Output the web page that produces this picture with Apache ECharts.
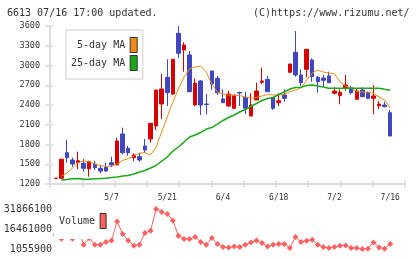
<!DOCTYPE html>
<html>
<head>
<meta charset="utf-8">
<script src="https://cdn.jsdelivr.net/npm/echarts@6.0.0/dist/echarts.min.js"></script>
<style>
  html, body { margin: 0; padding: 0; background: #fff; }
  #chart { width: 420px; height: 259px; }
</style>
</head>
<body>
<div id="chart"></div>
<script>
  // 日付 (2025/4/18 - 7/16)
  const dates = ['4/18', '4/21', '4/22', '4/23', '4/24', '4/25', '4/28', '4/30', '5/1', '5/2',
    '5/7', '5/8', '5/9', '5/12', '5/13', '5/14', '5/15', '5/16', '5/19', '5/20',
    '5/21', '5/22', '5/23', '5/26', '5/27', '5/28', '5/29', '5/30', '6/2', '6/3',
    '6/4', '6/5', '6/6', '6/9', '6/10', '6/11', '6/12', '6/13', '6/16', '6/17',
    '6/18', '6/19', '6/20', '6/23', '6/24', '6/25', '6/26', '6/27', '6/30', '7/1',
    '7/2', '7/3', '7/4', '7/7', '7/8', '7/9', '7/10', '7/11', '7/14', '7/15', '7/16']
  const dateLabels = ['5/7', '5/21', '6/4', '6/18', '7/2', '7/16']

  const opens = [1285, 1287, 1675, 1565, 1524, 1514, 1432, 1504, 1438, 1454,
    1524, 1489, 1960, 1742, 1600, 1615, 1777, 1884, 2081, 2415,
    2821, 2567, 3489, 3235, 3160, 2400, 2765, 2415, 2916, 2806,
    2491, 2385, 2350, 2590, 2517, 2233, 2476, 2745, 2790, 2517,
    2435, 2552, 2897, 3201, 2856, 2942, 3084, 2821, 2810, 2841,
    2578, 2541, 2654, 2663, 2487, 2628, 2587, 2502, 2389, 2400, 2283]
  const closes = [1289, 1577, 1600, 1504, 1554, 1438, 1539, 1448, 1397, 1397,
    1489, 1853, 1675, 1675, 1641, 1565, 1716, 2122, 2628, 2643,
    2587, 3094, 3185, 3311, 2602, 2730, 2400, 2408, 2719, 2587,
    2435, 2567, 2552, 2582, 2350, 2400, 2613, 2765, 2602, 2350,
    2465, 2502, 3023, 2856, 2739, 3246, 2830, 2754, 2775, 2739,
    2613, 2593, 2704, 2587, 2613, 2526, 2502, 2537, 2415, 2374, 1929]
  const lows = [1285, 1287, 1524, 1463, 1428, 1387, 1311, 1413, 1363, 1387,
    1454, 1489, 1651, 1630, 1549, 1539, 1675, 1827, 2020, 2187,
    2385, 2552, 3109, 2906, 2602, 2385, 2248, 2259, 2628, 2552,
    2435, 2374, 2335, 2385, 2263, 2233, 2476, 2719, 2602, 2324,
    2385, 2450, 2882, 2830, 2689, 2821, 2754, 2587, 2689, 2739,
    2563, 2411, 2617, 2563, 2487, 2517, 2487, 2259, 2339, 2365, 1929]
  const highs = [1289, 1577, 1868, 1600, 1691, 1580, 1554, 1554, 1489, 1524,
    1615, 1903, 2055, 1777, 1666, 1675, 1884, 2122, 2628, 2871,
    3094, 3094, 3598, 3352, 3220, 2806, 2780, 2567, 2916, 2841,
    2638, 2617, 2552, 2602, 2602, 2578, 2739, 2967, 2841, 2517,
    2578, 2638, 3023, 3524, 2942, 3246, 3109, 2841, 2856, 2906,
    2669, 2638, 2856, 2689, 2654, 2669, 2602, 2704, 2461, 2450, 2324]

  // 移動平均
  const ma5 = [null, 1321, 1367, 1443, 1527, 1549, 1539, 1503, 1481, 1466,
    1473, 1503, 1557, 1587, 1625, 1666, 1678, 1640, 1762, 1990,
    2218, 2446, 2643, 2825, 2947, 2977, 2992, 2901, 2719, 2597,
    2567, 2552, 2544, 2544, 2522, 2502, 2514, 2537, 2560, 2552,
    2552, 2562, 2602, 2628, 2658, 2780, 2886, 2932, 2901, 2886,
    2871, 2749, 2689, 2658, 2602, 2597, 2597, 2575, 2522, 2476, 2354]
  const ma25 = [null, 1261, 1268, 1280, 1284, 1271, 1271, 1280, 1284, 1286,
    1298, 1306, 1321, 1329, 1352, 1382, 1405, 1443, 1481, 1549,
    1610, 1701, 1762, 1837, 1913, 1944, 1982, 2035, 2058, 2111,
    2165, 2210, 2248, 2294, 2332, 2377, 2423, 2468, 2499, 2514,
    2560, 2597, 2643, 2666, 2669, 2696, 2704, 2689, 2673, 2654,
    2654, 2654, 2654, 2654, 2654, 2654, 2654, 2654, 2654, 2638, 2623]

  // 出来高
  const volumes = [12000000, 9000000, 13000000, 9000000, 16000000, 4370000, 9370000, 4370000, 4370000, 6450000,
    7680000, 22300000, 12600000, 7680000, 3600000, 4370000, 13400000, 15150000, 31866100, 29560000,
    28000000, 23100000, 11300000, 8760000, 8760000, 10300000, 6450000, 4370000, 9530000, 4910000,
    2600000, 2290000, 3060000, 2600000, 4370000, 6140000, 7680000, 5680000, 3060000, 4370000,
    4910000, 4910000, 1830000, 10300000, 6450000, 7450000, 8220000, 4370000, 2600000, 1830000,
    2600000, 3600000, 3830000, 1830000, 1830000, 1055900, 1290000, 6140000, 2290000, 1290000, 4910000]
  const volTicks = [1055900, 16461000, 31866100]

  const priceMin = 1200
  const priceMax = 3600
  const priceStep = 300

  const font = 'DejaVu Sans Mono'
  const axisColor = '#dcdcdc'
  const textColor = '#333'
  const upColor = '#d60000'
  const downColor = '#3f46c0'
  const volColor = '#ff6060'

  const candles = opens.map((o, i) => [o, closes[i], lows[i], highs[i]])
  const plain = (v) => String(v)

  const chart = echarts.init(document.getElementById('chart'), null, {renderer: 'canvas'})
  chart.setOption({
    animation: false,
    title: [
      {
        text: '6613 07/16 17:00 updated.',
        left: 7, top: 8, padding: 0,
        textStyle: {fontFamily: font, fontSize: 10, fontWeight: 'normal', color: textColor}
      },
      {
        text: '(C)https://www.rizumu.net/',
        left: 253, top: 8, padding: 0,
        textStyle: {fontFamily: font, fontSize: 10, fontWeight: 'normal', color: textColor}
      }
    ],
    legend: [
      {
        data: [
          {name: '5-day MA', itemStyle: {color: '#f08a14', borderColor: '#333', borderWidth: 1}},
          {name: '25-day MA', itemStyle: {color: '#1aa81a', borderColor: '#333', borderWidth: 1}}
        ],
        orient: 'vertical',
        align: 'right',
        left: 66, top: 30,
        padding: [7, 5, 8, 5],
        itemGap: 2,
        itemWidth: 7,
        itemHeight: 15,
        icon: 'rect',
        selectedMode: false,
        backgroundColor: '#fff',
        borderColor: '#dddddd',
        borderWidth: 1.5,
        textStyle: {fontFamily: font, fontSize: 10, color: textColor}
      },
      {
        data: [{name: 'Volume', itemStyle: {color: volColor, borderColor: '#333', borderWidth: 1}}],
        orient: 'vertical',
        align: 'right',
        left: 54, top: 203,
        padding: [10, 3, 10, 5],
        itemWidth: 6,
        itemHeight: 15,
        icon: 'rect',
        selectedMode: false,
        backgroundColor: '#fff',
        textStyle: {fontFamily: font, fontSize: 10, color: textColor}
      }
    ],
    grid: [
      {left: 50, width: 355, top: 26, height: 158},
      {left: 53, width: 340, top: 26, height: 158},
      {left: 53, width: 340, top: 209, height: 40}
    ],
    xAxis: [
      {
        gridIndex: 0, type: 'value', min: 0, max: 11, interval: 1,
        axisLine: {onZero: false, lineStyle: {color: axisColor, width: 2}},
        axisTick: {length: 4, lineStyle: {color: axisColor, width: 1.5}},
        axisLabel: {show: false},
        splitLine: {show: false}
      },
      {
        gridIndex: 0, type: 'value', min: 0, max: 11, interval: 1, position: 'bottom',
        axisLine: {show: false, onZero: false},
        axisTick: {inside: true, length: 4, lineStyle: {color: axisColor, width: 1.5}},
        axisLabel: {show: false},
        splitLine: {show: false}
      },
      {
        gridIndex: 1, type: 'category', data: dates,
        axisLine: {show: false},
        axisTick: {show: false},
        axisLabel: {
          interval: (i, v) => dateLabels.includes(v),
          margin: 10,
          fontFamily: font, fontSize: 8, color: textColor
        }
      },
      {
        gridIndex: 2, type: 'category', data: dates,
        axisLine: {show: false}, axisTick: {show: false}, axisLabel: {show: false}
      }
    ],
    yAxis: [
      {
        gridIndex: 0, type: 'value', min: priceMin, max: priceMax, interval: priceStep,
        axisLine: {show: true, onZero: false, lineStyle: {color: axisColor, width: 2}},
        axisTick: {show: true, length: 5, lineStyle: {color: axisColor, width: 1.5}},
        axisLabel: {margin: 10, formatter: plain, fontFamily: font, fontSize: 8.5, color: textColor},
        splitLine: {show: false}
      },
      {
        gridIndex: 0, type: 'value', min: priceMin, max: priceMax, interval: priceStep, position: 'left',
        axisLine: {show: false, onZero: false},
        axisTick: {show: true, inside: true, length: 3, lineStyle: {color: axisColor, width: 1.5}},
        axisLabel: {show: false},
        splitLine: {show: false}
      },
      {
        gridIndex: 1, type: 'value', min: priceMin, max: priceMax,
        axisLine: {show: false}, axisTick: {show: false}, axisLabel: {show: false},
        splitLine: {show: false}
      },
      {
        gridIndex: 2, type: 'value', min: volTicks[0], max: volTicks[2],
        axisLine: {show: false},
        axisTick: {show: false},
        axisLabel: {customValues: volTicks, formatter: plain, margin: 1, fontFamily: font, fontSize: 10, color: textColor},
        splitLine: {show: false}
      }
    ],
    series: [
      {
        name: 'price',
        type: 'candlestick',
        xAxisIndex: 2, yAxisIndex: 2,
        data: candles,
        barWidth: 4,
        itemStyle: {
          color: upColor, color0: downColor,
          borderColor: upColor, borderColor0: downColor,
          borderWidth: 1
        }
      },
      {
        name: '5-day MA',
        type: 'line',
        xAxisIndex: 2, yAxisIndex: 2,
        data: ma5,
        symbol: 'none',
        color: '#f08a14',
        lineStyle: {width: 1, color: '#f08a14'}
      },
      {
        name: '25-day MA',
        type: 'line',
        xAxisIndex: 2, yAxisIndex: 2,
        data: ma25,
        symbol: 'none',
        color: '#1aa81a',
        lineStyle: {width: 1.5, color: '#1aa81a'}
      },
      {
        name: 'Volume',
        type: 'line',
        xAxisIndex: 3, yAxisIndex: 3,
        data: volumes,
        symbol: 'diamond',
        symbolSize: 6,
        showAllSymbol: true,
        clip: false,
        color: volColor,
        itemStyle: {color: volColor},
        lineStyle: {width: 1, color: volColor}
      }
    ]
  })
</script>
</body>
</html>
